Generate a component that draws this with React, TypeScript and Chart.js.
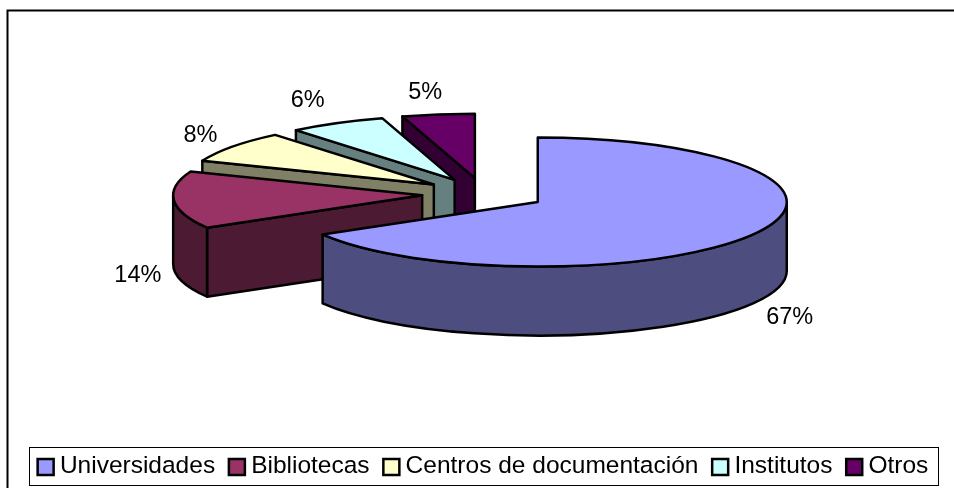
import React, { useEffect, useRef } from "react";
import { Chart, registerables } from "chart.js";

Chart.register(...registerables);

const categories = ["Universidades", "Bibliotecas", "Centros de documentación", "Institutos", "Otros"];
const shares = [66.6, 14.4, 8.0, 6.3, 4.7];
const topColors = ["#9999FF", "#993366", "#FFFFCC", "#CCFFFF", "#660066"];
const sideColors = ["#4D4D80", "#4D1A33", "#808066", "#668080", "#330033"];
const labelNudges = [[36, 83], [-36, 75], [-32, -11], [-29, -23], [-13, -22]];

const SQUASH = 0.259;
const DEPTH = 69;
const RADIUS = 249;
const FONT = "'Liberation Sans', Arial, sans-serif";

const pie3d = {
  id: "pie3d",
  afterLayout(chart: any) {
    chart.chartArea.left = 14;
    chart.chartArea.right = 954;
    chart.chartArea.top = 0;
    chart.chartArea.bottom = 388;
  },
  beforeDatasetDraw: () => false,
  afterDatasetsDraw(chart: any) {
    const ctx: CanvasRenderingContext2D = chart.ctx;
    const arcs = chart.getDatasetMeta(0).data;
    ctx.save();
    ctx.lineWidth = 2.5;
    ctx.strokeStyle = "#000";
    ctx.lineJoin = "round";
    const geo = (arc: any) => {
      const { x, y, startAngle, endAngle, outerRadius } = arc.getProps(["x", "y", "startAngle", "endAngle", "outerRadius"], true);
      const mid = (startAngle + endAngle) / 2;
      const off = (arc.options.offset || 0) / 4;
      return {
        startAngle, endAngle, mid, R: outerRadius,
        ax: x + Math.cos(mid) * off,
        ay: y + Math.sin(mid) * off * SQUASH,
      };
    };
    const paint = (fill: string) => { ctx.fillStyle = fill; ctx.fill(); ctx.stroke(); };
    const face = (g: any, a: number, fill: string) => {
      const px = g.ax + Math.cos(a) * g.R, py = g.ay + Math.sin(a) * g.R * SQUASH;
      ctx.beginPath();
      ctx.moveTo(g.ax, g.ay);
      ctx.lineTo(px, py);
      ctx.lineTo(px, py + DEPTH);
      ctx.lineTo(g.ax, g.ay + DEPTH);
      ctx.closePath();
      paint(fill);
    };
    const wall = (g: any, a0: number, a1: number, fill: string) => {
      ctx.beginPath();
      ctx.ellipse(g.ax, g.ay, g.R, g.R * SQUASH, 0, a0, a1);
      ctx.ellipse(g.ax, g.ay + DEPTH, g.R, g.R * SQUASH, 0, a1, a0, true);
      ctx.closePath();
      paint(fill);
    };
    for (let i = arcs.length - 1; i >= 0; i--) {
      const g = geo(arcs[i]);
      const side = sideColors[i];
      if (Math.cos(g.startAngle) < -1e-6) face(g, g.startAngle, side);
      if (Math.cos(g.endAngle) > 1e-6) face(g, g.endAngle, side);
      const a0 = Math.max(g.startAngle, 0);
      const a1 = Math.min(g.endAngle, Math.PI);
      if (a1 > a0) wall(g, a0, a1, side);
      ctx.beginPath();
      ctx.moveTo(g.ax, g.ay);
      ctx.ellipse(g.ax, g.ay, g.R, g.R * SQUASH, 0, g.startAngle, g.endAngle);
      ctx.closePath();
      paint(arcs[i].options.backgroundColor);
    }
    ctx.fillStyle = "#000";
    ctx.font = `23.5px ${FONT}`;
    ctx.textAlign = "center";
    ctx.textBaseline = "middle";
    arcs.forEach((arc: any, i: number) => {
      const g = geo(arc);
      const lx = g.ax + Math.cos(g.mid) * g.R + labelNudges[i][0];
      const ly = g.ay + Math.sin(g.mid) * g.R * SQUASH + labelNudges[i][1];
      ctx.fillText(Math.round(shares[i]) + "%", lx, ly);
    });
    ctx.restore();
  },
};

const frame = {
  id: "frame",
  beforeDraw(chart: any) {
    const ctx: CanvasRenderingContext2D = chart.ctx;
    ctx.save();
    ctx.fillStyle = "#fff";
    ctx.fillRect(0, 0, 954, 488);
    ctx.strokeStyle = "#000";
    ctx.lineWidth = 2;
    ctx.beginPath();
    ctx.moveTo(954, 10.5);
    ctx.lineTo(7.5, 10.5);
    ctx.lineTo(7.5, 488);
    ctx.stroke();
    ctx.restore();
  },
  afterDraw(chart: any) {
    const hb = chart.legend.legendHitBoxes;
    const ctx: CanvasRenderingContext2D = chart.ctx;
    ctx.save();
    ctx.strokeStyle = "#000";
    ctx.lineWidth = 1;
    const last = hb[hb.length - 1];
    const left = hb[0].left - 8;
    const right = last.left + last.width + 9;
    ctx.strokeRect(Math.round(left) + 0.5, 447.5, Math.round(right - left), 38);
    ctx.lineWidth = 2.5;
    hb.forEach((b: any, i: number) => {
      ctx.fillStyle = topColors[i];
      ctx.fillRect(b.left + 1, 459, 16, 16);
      ctx.strokeRect(b.left + 1, 459, 16, 16);
    });
    ctx.restore();
  },
};

export default function App() {
  const ref = useRef<HTMLCanvasElement>(null);
  useEffect(() => {
    const chart = new Chart(ref.current!, {
      type: "pie",
      data: {
        labels: categories,
        datasets: [{
          data: shares,
          backgroundColor: topColors,
          borderColor: "#000",
          borderWidth: 2,
          offset: 248,
          radius: RADIUS,
        } as any],
      },
      options: {
        animation: false,
        responsive: false,
        devicePixelRatio: 1,
        layout: { padding: { left: 11, right: 0, top: 0, bottom: 0 } },
        plugins: {
          legend: {
            position: "bottom",
            onClick: undefined as any,
            labels: {
              color: "#000",
              font: { family: FONT, size: 24.5 },
              boxWidth: 11,
              boxHeight: 11,
              padding: 12.75,
              generateLabels: () => categories.map((text, i) => ({
                text, fillStyle: "rgba(0,0,0,0)", strokeStyle: "rgba(0,0,0,0)", lineWidth: 0, index: i,
              })),
            },
          },
          tooltip: { enabled: false },
        },
      },
      plugins: [frame, pie3d],
    } as any);
    return () => chart.destroy();
  }, []);
  return (
    <div style={{ position: "fixed", left: 0, top: 0, width: 954, height: 488 }}>
      <canvas ref={ref} width={954} height={488} style={{ display: "block" }} />
    </div>
  );
}
